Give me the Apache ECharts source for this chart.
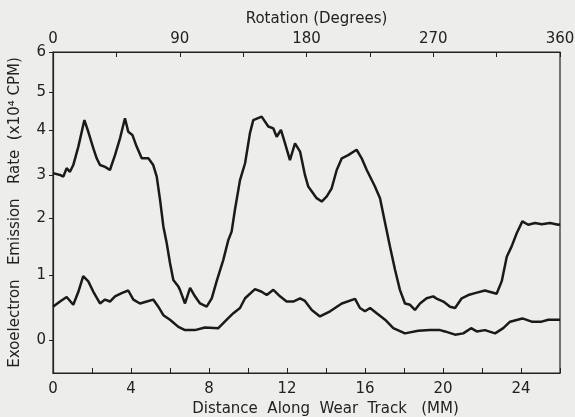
<!DOCTYPE html>
<html><head><meta charset="utf-8">
<script src="https://cdn.jsdelivr.net/npm/echarts@6/dist/echarts.min.js"></script>
<style>html,body{margin:0;padding:0;background:#ededeb}#c{width:575px;height:417px}</style>
</head><body><div id="c"></div>
<script>
// ---- data (distance in mm, emission rate in x10^4 CPM) ----
const UPPER_MM = [0,0.36,0.53,0.70,0.87,1.04,1.30,1.61,1.81,2.07,2.24,2.41,2.67,2.92,3.18,3.44,3.69,3.86,4.07,4.29,4.55,4.89,5.14,5.32,5.49,5.66,5.83,6.00,6.17,6.43,6.51,6.77,7.03,7.28,7.54,7.88,8.14,8.39,8.73,8.99,9.16,9.33,9.59,9.85,10.10,10.27,10.70,11.04,11.30,11.47,11.69,11.90,12.15,12.41,12.67,12.92,13.09,13.18,13.52,13.78,14.04,14.29,14.55,14.81,15.14,15.57,15.83,16.09,16.51,16.77,17.03,17.28,17.54,17.79,18.05,18.31,18.56,18.82,19.16,19.50,19.70,20.02,20.36,20.62,20.96,21.30,21.64,22.15,22.75,23.01,23.27,23.52,23.78,24.07,24.37,24.72,25.06,25.49,25.91,26.00];
const UPPER_RATE = [3.04,3.00,2.96,3.15,3.07,3.22,3.63,4.26,3.96,3.59,3.37,3.22,3.18,3.11,3.44,3.82,4.31,3.96,3.89,3.63,3.37,3.37,3.22,2.96,2.42,1.85,1.56,1.21,0.92,0.82,0.77,0.56,0.80,0.67,0.56,0.51,0.64,0.90,1.26,1.61,1.76,2.19,2.88,3.26,3.93,4.26,4.35,4.09,4.04,3.85,4.00,3.70,3.33,3.70,3.52,3.00,2.73,2.69,2.46,2.38,2.50,2.69,3.11,3.37,3.44,3.56,3.37,3.11,2.73,2.46,1.91,1.50,1.09,0.77,0.56,0.54,0.46,0.56,0.64,0.67,0.63,0.59,0.51,0.49,0.64,0.69,0.72,0.76,0.71,0.90,1.32,1.50,1.73,1.94,1.88,1.91,1.89,1.91,1.88,1.89];
const LOWER_MM = [0,0.36,0.70,1.04,1.30,1.55,1.81,2.07,2.41,2.67,2.92,3.18,3.52,3.86,4.12,4.46,4.81,5.14,5.40,5.66,6.00,6.43,6.77,7.28,7.79,8.48,8.91,9.25,9.59,9.85,10.36,10.70,10.96,11.30,11.64,11.98,12.32,12.67,12.92,13.27,13.69,14.21,14.81,15.49,15.74,16.00,16.26,16.60,17.03,17.45,18.05,18.73,19.33,19.85,20.10,20.62,21.04,21.44,21.73,22.15,22.67,23.09,23.44,24.07,24.55,25.06,25.40,25.91,26.00];
const LOWER_RATE = [0.51,0.59,0.66,0.54,0.74,0.98,0.90,0.74,0.56,0.62,0.59,0.67,0.72,0.76,0.62,0.56,0.59,0.62,0.51,0.38,0.31,0.20,0.15,0.15,0.19,0.18,0.31,0.41,0.49,0.64,0.78,0.74,0.69,0.77,0.67,0.59,0.59,0.64,0.60,0.46,0.36,0.44,0.56,0.63,0.49,0.44,0.49,0.41,0.31,0.18,0.10,0.14,0.15,0.15,0.13,0.08,0.10,0.18,0.13,0.15,0.10,0.18,0.28,0.33,0.28,0.28,0.31,0.31,0.31];
const RATE_TICKS = [0,1,2,3,4,5,6];
const RATE_MIN = -0.51;

// ---- the original ordinate is non-uniform: spacing of each unit step ----
const SCALE_STEP = [65,57,43,45,38,40];
function toScale(v){
  if (v <= 0) return v*SCALE_STEP[0];
  let s = 0;
  for (let i=0;i<SCALE_STEP.length;i++){
    if (v <= i+1) return s + (v-i)*SCALE_STEP[i];
    s += SCALE_STEP[i];
  }
  return s + (v-SCALE_STEP.length)*SCALE_STEP[SCALE_STEP.length-1];
}
const tickScale = RATE_TICKS.map(toScale);

const FONT = 'DejaVu Sans';
const INK = '#222';
const chart = echarts.init(document.getElementById('c'));
chart.setOption({
  backgroundColor:'#ededeb',
  animation:false,
  grid:{left:53,right:15,top:52,bottom:44,outerBoundsMode:'none',containLabel:false,show:true,borderColor:INK,borderWidth:1.2,backgroundColor:'transparent'},
  xAxis:[{
    type:'value',position:'bottom',min:0,max:26,interval:2,
    axisLine:{onZero:false,lineStyle:{color:INK,width:1.2}},
    axisTick:{inside:true,length:5,lineStyle:{color:INK}},
    axisLabel:{margin:9,fontSize:15,color:INK,fontFamily:FONT,formatter:v=>v%4===0?String(v):''},
    splitLine:{show:false},
    name:'Distance  Along  Wear  Track   (MM)',nameLocation:'middle',nameGap:27,
    nameTextStyle:{fontSize:15,color:INK,fontFamily:FONT,padding:[0,0,0,38]}
  },{
    type:'value',position:'top',min:0,max:360,interval:45,
    axisLine:{onZero:false,lineStyle:{color:INK,width:1.2}},
    axisTick:{inside:true,length:5,lineStyle:{color:INK}},
    axisLabel:{margin:5,fontSize:15,color:INK,fontFamily:FONT,formatter:v=>v%90===0?String(v):''},
    splitLine:{show:false},
    name:'Rotation (Degrees)',nameLocation:'middle',nameGap:25,
    nameTextStyle:{fontSize:15,color:INK,fontFamily:FONT,padding:[0,0,0,20]}
  }],
  yAxis:{
    type:'value',min:toScale(RATE_MIN),max:toScale(6),
    axisLine:{show:true,onZero:false,lineStyle:{color:INK,width:1.2}},
    axisTick:{show:true,length:4,customValues:tickScale,lineStyle:{color:INK}},
    axisLabel:{margin:7,fontSize:15,color:INK,fontFamily:FONT,customValues:tickScale,
      formatter:v=>{const i=tickScale.findIndex(t=>Math.abs(t-v)<0.01);return i>=0?String(RATE_TICKS[i]):'';}},
    splitLine:{show:false},
    name:'Exoelectron   Emission   Rate  (x10⁴ CPM)',nameLocation:'middle',nameRotate:90,nameGap:30,
    nameTextStyle:{fontSize:15,color:INK,fontFamily:FONT}
  },
  series:[{
    type:'line',xAxisIndex:0,showSymbol:false,
    data:UPPER_MM.map((x,i)=>[x,toScale(UPPER_RATE[i])]),
    lineStyle:{color:'#1a1a1a',width:2.5}
  },{
    type:'line',xAxisIndex:0,showSymbol:false,
    data:LOWER_MM.map((x,i)=>[x,toScale(LOWER_RATE[i])]),
    lineStyle:{color:'#1a1a1a',width:2.5}
  }]
});
</script></body></html>
